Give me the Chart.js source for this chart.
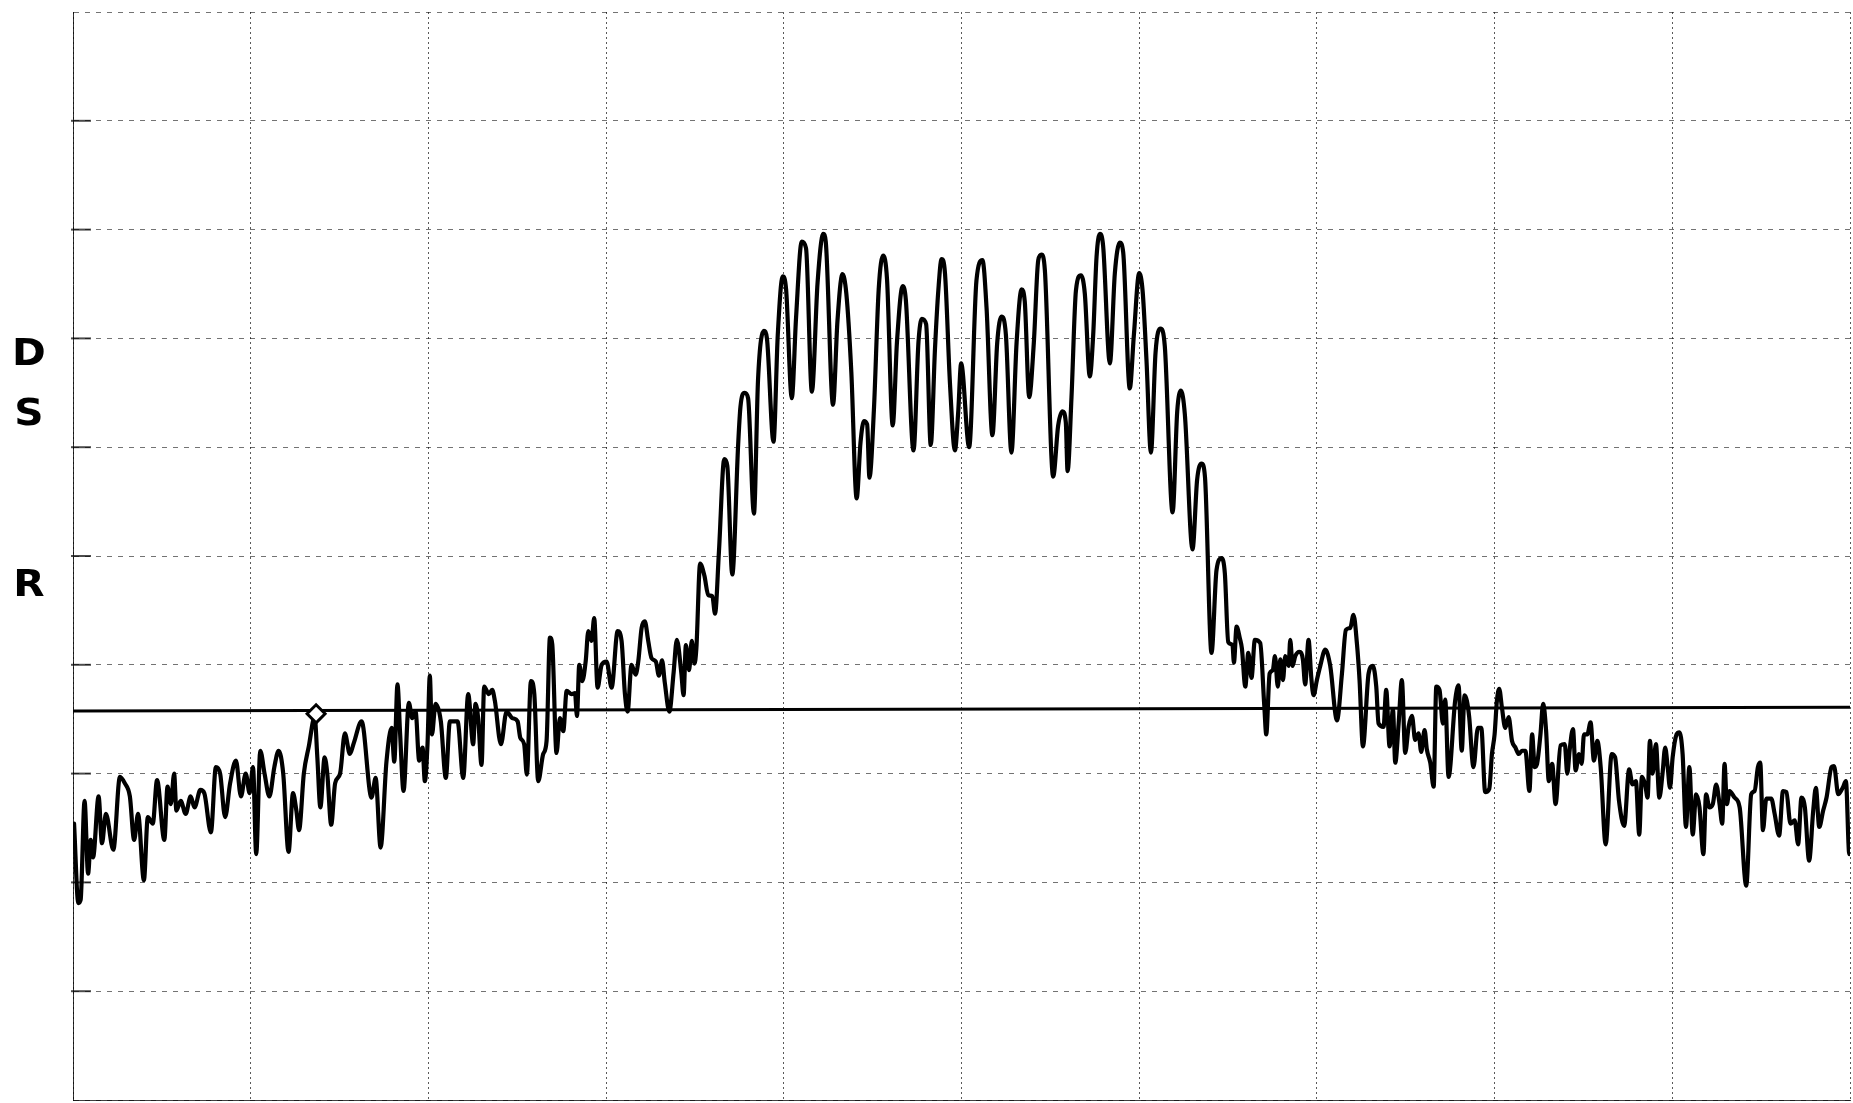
<!DOCTYPE html>
<html>
<head>
<meta charset="utf-8">
<title>Spectrum trace</title>
<script src="https://cdn.jsdelivr.net/npm/chart.js@4.4.1/dist/chart.umd.min.js"></script>
<style>
    html, body { margin: 0; padding: 0; background: #fff; }
    #wrap { width: 1853px; height: 1103px; }
</style>
</head>
<body>
<div id="wrap"><canvas id="trace" width="1853" height="1103"></canvas></div>
<script>
// horizontal position in graticule units (10 per division)
const freq = [
    0.06, 0.30, 0.43, 0.65, 0.85, 1.00, 1.13, 1.44, 1.63, 1.85, 2.27, 2.64, 2.92, 3.20, 3.44, 3.66,
    3.99, 4.21, 4.49, 4.73, 5.14, 5.32, 5.51, 5.69, 5.82, 6.06, 6.34, 6.62, 6.84, 7.17, 7.39, 7.76,
    8.04, 8.28, 8.56, 8.84, 9.17, 9.45, 9.72, 9.94, 10.13, 10.31, 10.54, 10.78, 11.05, 11.33, 11.57, 11.83,
    12.13, 12.38, 12.57, 12.72, 12.99, 13.27, 13.60, 13.75, 13.92, 14.16, 14.31, 14.53, 14.75, 15.03, 15.30, 15.58,
    15.80, 16.24, 16.80, 17.03, 17.31, 17.64, 17.93, 18.08, 18.26, 18.41, 18.60, 18.90, 19.09, 19.28, 19.48, 19.67,
    19.80, 19.95, 20.08, 20.20, 20.40, 20.70, 20.98, 21.21, 21.64, 21.96, 22.24, 22.52, 22.65, 22.80, 22.99, 23.14,
    23.40, 23.59, 23.74, 24.08, 24.40, 24.72, 25.02, 25.17, 25.39, 25.54, 25.77, 25.96, 26.18, 26.46, 26.65, 26.84,
    26.97, 27.21, 27.40, 27.59, 27.78, 28.06, 28.25, 28.36, 28.49, 28.66, 28.85, 29.00, 29.18, 29.33, 29.52, 29.75,
    30.03, 30.31, 30.65, 30.87, 31.06, 31.21, 31.43, 31.66, 31.81, 32.00, 32.18, 32.37, 32.56, 32.80, 32.97, 33.15,
    33.30, 33.56, 33.80, 33.98, 34.23, 34.36, 34.49, 34.67, 34.82, 34.97, 35.08, 35.29, 35.53, 35.75, 35.98, 36.13,
    36.35, 36.65, 36.82, 37.10, 37.43, 37.56, 37.80, 37.99, 38.32, 38.55, 38.88, 39.05, 39.42, 39.66, 39.94, 40.13,
    40.45, 40.69, 41.01, 41.25, 41.58, 41.90, 42.22, 42.36, 42.77, 43.02, 43.30, 43.52, 43.80, 44.10, 44.32, 44.51,
    44.69, 44.82, 45.07, 45.34, 45.59, 45.81, 46.13, 46.37, 46.69, 46.87, 47.30, 47.58, 47.77, 48.01, 48.27, 48.51,
    48.70, 48.88, 49.07, 49.35, 49.63, 49.81, 49.98, 50.43, 50.84, 51.18, 51.41, 51.74, 52.01, 52.25, 52.50, 52.81,
    53.10, 53.38, 53.56, 53.81, 54.07, 54.32, 54.50, 54.69, 55.16, 55.44, 55.68, 55.87, 55.97, 56.19, 56.44, 56.72,
    56.94, 57.22, 57.41, 57.60, 57.79, 57.97, 58.35, 58.63, 58.91, 59.10, 59.47, 59.70, 60.00, 60.19, 60.41, 60.66,
    60.92, 61.20, 61.44, 61.88, 62.14, 62.35, 62.57, 63.00, 63.26, 63.51, 63.70, 64.07, 64.35, 64.63, 64.82, 65.01,
    65.25, 65.33, 65.48, 65.67, 65.78, 65.97, 66.14, 66.32, 66.51, 66.81, 67.04, 67.15, 67.34, 67.52, 67.64, 67.80,
    67.94, 68.09, 68.22, 68.41, 68.50, 68.63, 68.78, 69.02, 69.21, 69.34, 69.53, 69.68, 69.81, 70.00, 70.19, 70.47,
    70.75, 71.13, 71.41, 71.63, 71.88, 72.06, 72.25, 72.40, 72.59, 72.91, 73.15, 73.34, 73.47, 73.75, 73.90, 74.09,
    74.28, 74.41, 74.60, 74.78, 74.97, 75.16, 75.35, 75.53, 75.72, 75.87, 76.06, 76.19, 76.38, 76.57, 76.72, 76.90,
    77.09, 77.22, 77.41, 77.78, 77.97, 78.15, 78.31, 78.44, 78.57, 78.81, 79.06, 79.25, 79.47, 79.70, 79.85, 80.00,
    80.13, 80.26, 80.41, 80.60, 80.79, 80.98, 81.17, 81.36, 81.54, 81.73, 81.96, 82.11, 82.26, 82.39, 82.58, 82.73,
    82.90, 83.05, 83.24, 83.43, 83.71, 83.95, 84.09, 84.22, 84.41, 84.56, 84.75, 84.90, 85.03, 85.22, 85.40, 85.59,
    85.78, 85.97, 86.25, 86.59, 86.78, 87.00, 87.29, 87.57, 87.76, 87.95, 88.14, 88.29, 88.47, 88.61, 88.74, 88.89,
    89.08, 89.27, 89.45, 89.60, 89.74, 89.87, 90.02, 90.24, 90.40, 90.58, 90.77, 90.96, 91.15, 91.34, 91.53, 91.75,
    91.90, 92.09, 92.28, 92.47, 92.66, 92.81, 92.94, 93.07, 93.22, 93.50, 93.79, 94.16, 94.44, 94.63, 94.82, 94.95,
    95.10, 95.29, 95.57, 95.76, 96.01, 96.23, 96.42, 96.65, 96.89, 97.08, 97.27, 97.46, 97.70, 97.93, 98.08, 98.27,
    98.49, 98.68, 98.96, 99.10, 99.34, 99.59, 99.77, 99.96, 100.17
];

// trace level in graticule units (10 per division, bottom line = 0)
const level = [
    25.4, 18.1, 18.4, 27.5, 20.8, 23.9, 22.3, 27.9, 23.6, 26.3, 23.0, 29.7, 29.1, 27.9, 23.9, 26.3,
    20.2, 26.0, 25.4, 29.4, 23.9, 28.8, 27.2, 30.0, 26.6, 27.5, 26.3, 27.9, 26.9, 28.5, 28.2, 24.6,
    30.6, 30.0, 26.0, 29.1, 31.2, 27.9, 30.0, 28.2, 30.6, 22.6, 32.1, 30.0, 27.9, 30.6, 32.1, 30.0,
    22.8, 28.2, 26.6, 24.8, 30.0, 32.5, 35.2, 31.5, 26.9, 31.5, 30.0, 25.3, 29.1, 30.0, 33.7, 31.8,
    32.8, 34.8, 27.8, 29.6, 23.2, 31.1, 34.2, 31.1, 38.2, 33.6, 28.4, 36.5, 35.1, 35.7, 31.2, 32.4,
    29.3, 32.7, 39.0, 33.6, 36.4, 34.8, 29.6, 34.8, 34.8, 29.6, 37.3, 32.7, 36.4, 35.1, 30.8, 38.0,
    37.3, 37.7, 36.7, 32.7, 35.7, 35.1, 34.8, 33.3, 32.7, 29.9, 38.5, 37.3, 29.3, 31.8, 33.0, 42.5,
    41.9, 31.9, 35.1, 33.9, 37.6, 37.3, 37.4, 35.3, 40.0, 38.5, 40.3, 43.1, 42.2, 44.3, 37.9, 40.0,
    40.3, 37.9, 43.1, 42.2, 37.3, 35.7, 40.0, 39.1, 40.3, 43.4, 44.0, 42.2, 40.6, 40.3, 39.0, 40.4,
    38.4, 35.7, 39.3, 42.3, 39.3, 37.2, 41.8, 39.5, 42.2, 40.1, 41.5, 49.3, 48.2, 46.4, 46.3, 44.7,
    50.4, 58.9, 58.3, 48.3, 60.2, 63.7, 65.0, 64.5, 53.9, 66.2, 70.7, 70.0, 60.5, 70.3, 75.7, 74.5,
    64.5, 71.9, 78.9, 78.3, 65.1, 75.1, 79.6, 78.9, 63.9, 71.6, 75.9, 74.1, 66.9, 55.3, 60.5, 62.4,
    62.1, 57.2, 63.4, 74.5, 77.6, 75.4, 62.0, 69.7, 74.8, 73.5, 59.7, 69.7, 71.8, 71.3, 60.2, 69.1,
    74.5, 77.3, 76.0, 65.9, 59.7, 63.1, 67.7, 60.0, 75.3, 77.2, 72.8, 61.1, 69.6, 72.0, 70.3, 59.5,
    69.6, 74.5, 73.4, 64.6, 69.6, 77.2, 77.7, 76.3, 57.3, 62.0, 63.3, 62.3, 57.8, 64.6, 74.4, 75.8,
    74.1, 66.5, 70.3, 77.5, 79.6, 78.5, 67.7, 76.0, 78.8, 77.9, 65.4, 70.3, 76.0, 74.4, 68.0, 59.5,
    68.7, 70.9, 69.3, 54.0, 63.3, 65.2, 63.0, 50.6, 57.0, 58.5, 57.3, 41.1, 48.7, 49.8, 48.4, 42.1,
    41.8, 40.2, 43.5, 42.4, 41.5, 38.0, 41.1, 38.8, 42.3, 42.0, 36.2, 33.6, 39.2, 39.5, 40.8, 38.0,
    40.5, 38.6, 40.8, 39.9, 42.3, 39.9, 40.8, 41.2, 40.5, 38.2, 42.3, 38.9, 37.2, 38.6, 39.9, 41.4,
    39.9, 34.9, 39.2, 43.2, 43.4, 44.6, 42.0, 38.6, 32.5, 39.2, 39.9, 38.0, 34.6, 34.3, 37.7, 32.5,
    35.9, 31.0, 34.6, 38.6, 31.9, 34.3, 35.3, 33.1, 33.7, 32.0, 34.0, 32.2, 31.0, 28.8, 38.0, 37.7,
    34.6, 36.8, 29.7, 36.7, 38.1, 32.1, 37.2, 36.7, 35.2, 30.6, 34.2, 34.2, 28.3, 28.6, 31.8, 33.6,
    36.7, 37.8, 36.1, 34.2, 35.2, 33.0, 32.4, 31.8, 32.1, 32.1, 28.4, 33.6, 30.6, 30.9, 33.6, 36.4,
    33.9, 29.3, 30.9, 27.2, 32.6, 32.7, 30.0, 32.1, 34.1, 30.3, 31.8, 30.9, 33.6, 33.6, 34.7, 31.2,
    33.0, 30.6, 23.5, 31.8, 31.5, 27.5, 25.2, 30.4, 29.0, 29.3, 24.4, 29.7, 29.0, 27.8, 33.0, 30.0,
    32.7, 27.8, 30.0, 32.4, 30.6, 28.7, 31.5, 33.6, 33.8, 31.8, 25.1, 30.6, 24.4, 28.1, 26.9, 22.6,
    28.1, 26.9, 27.2, 29.0, 27.2, 25.4, 30.9, 27.2, 28.4, 27.8, 26.9, 19.7, 28.1, 28.4, 30.6, 31.0,
    24.8, 27.7, 27.7, 26.3, 24.3, 28.4, 28.3, 25.4, 25.7, 23.5, 27.8, 26.9, 22.0, 26.6, 28.7, 25.1,
    26.6, 27.8, 30.6, 30.7, 28.1, 28.7, 29.3, 22.6, 24.4
];

// display line (slightly tilted on the plot) and the marker
const refFreq = [0, 100];
const refLevel = [35.75, 36.1];
const markerFreq = [13.68];
const markerLevel = [35.5];

// side annotations and where they sit on the level scale
const sideLabels = ['D', 'S', 'R'];
const sideLevels = [68.4, 62.9, 47.2];

const toPoints = (xs, ys) => xs.map((x, i) => ({ x: x, y: ys[i] }));

// short tick marks just inside the left frame, one per horizontal division
const leftTickPlugin = {
    id: 'leftTicks',
    afterDatasetsDraw(chart) {
        const ctx = chart.ctx;
        const area = chart.chartArea;
        const yScale = chart.scales.y;
        ctx.save();
        ctx.strokeStyle = 'rgba(0,0,0,0.7)';
        ctx.lineWidth = 2;
        yScale.ticks.forEach(t => {
            if (t.value <= 0 || t.value >= 100) return;
            const y = yScale.getPixelForValue(t.value);
            ctx.beginPath();
            ctx.moveTo(area.left - 2, y);
            ctx.lineTo(area.left + 18, y);
            ctx.stroke();
        });
        ctx.restore();
    }
};

const sideLabelPlugin = {
    id: 'sideLabels',
    afterDraw(chart) {
        const ctx = chart.ctx;
        const yScale = chart.scales.y;
        ctx.save();
        ctx.fillStyle = '#000';
        ctx.textAlign = 'center';
        ctx.textBaseline = 'middle';
        ctx.font = 'bold 37px "DejaVu Sans"';
        sideLabels.forEach((txt, i) => {
            const y = yScale.getPixelForValue(sideLevels[i]);
            ctx.save();
            ctx.translate(29, y);
            ctx.scale(1.1, 1);
            ctx.fillText(txt, 0, 0);
            ctx.restore();
        });
        ctx.restore();
    }
};

new Chart(document.getElementById('trace'), {
    type: 'line',
    data: {
        datasets: [
            {
                data: toPoints(markerFreq, markerLevel),
                showLine: false,
                pointStyle: 'rectRot',
                pointRadius: 9,
                pointBorderWidth: 3,
                pointBorderColor: '#000',
                pointBackgroundColor: '#fff',
                order: 0
            },
            {
                data: toPoints(freq, level),
                borderColor: '#000',
                borderWidth: 4.2,
                cubicInterpolationMode: 'monotone',
                borderJoinStyle: 'round',
                borderCapStyle: 'round',
                pointRadius: 0,
                order: 1
            },
            {
                data: toPoints(refFreq, refLevel),
                borderColor: '#000',
                borderWidth: 3,
                pointRadius: 0,
                order: 2
            }
        ]
    },
    options: {
        responsive: false,
        animation: false,
        devicePixelRatio: 1,
        layout: { autoPadding: false, padding: { left: 73, right: 3, top: 12, bottom: 3 } },
        plugins: {
            legend: { display: false },
            tooltip: { enabled: false }
        },
        scales: {
            x: {
                type: 'linear',
                min: 0,
                max: 100,
                ticks: { display: false, stepSize: 10 },
                grid: { color: 'rgba(0,0,0,0.65)', lineWidth: 1, drawTicks: false },
                border: { display: true, color: 'rgba(0,0,0,0.75)', dash: [2, 3] }
            },
            y: {
                type: 'linear',
                min: 0,
                max: 100,
                ticks: { display: false, stepSize: 10 },
                grid: { color: 'rgba(0,0,0,0.55)', lineWidth: 1, drawTicks: false },
                border: { display: true, color: 'rgba(0,0,0,0.8)', dash: [5, 6] }
            }
        }
    },
    plugins: [leftTickPlugin, sideLabelPlugin]
});
</script>
</body>
</html>
